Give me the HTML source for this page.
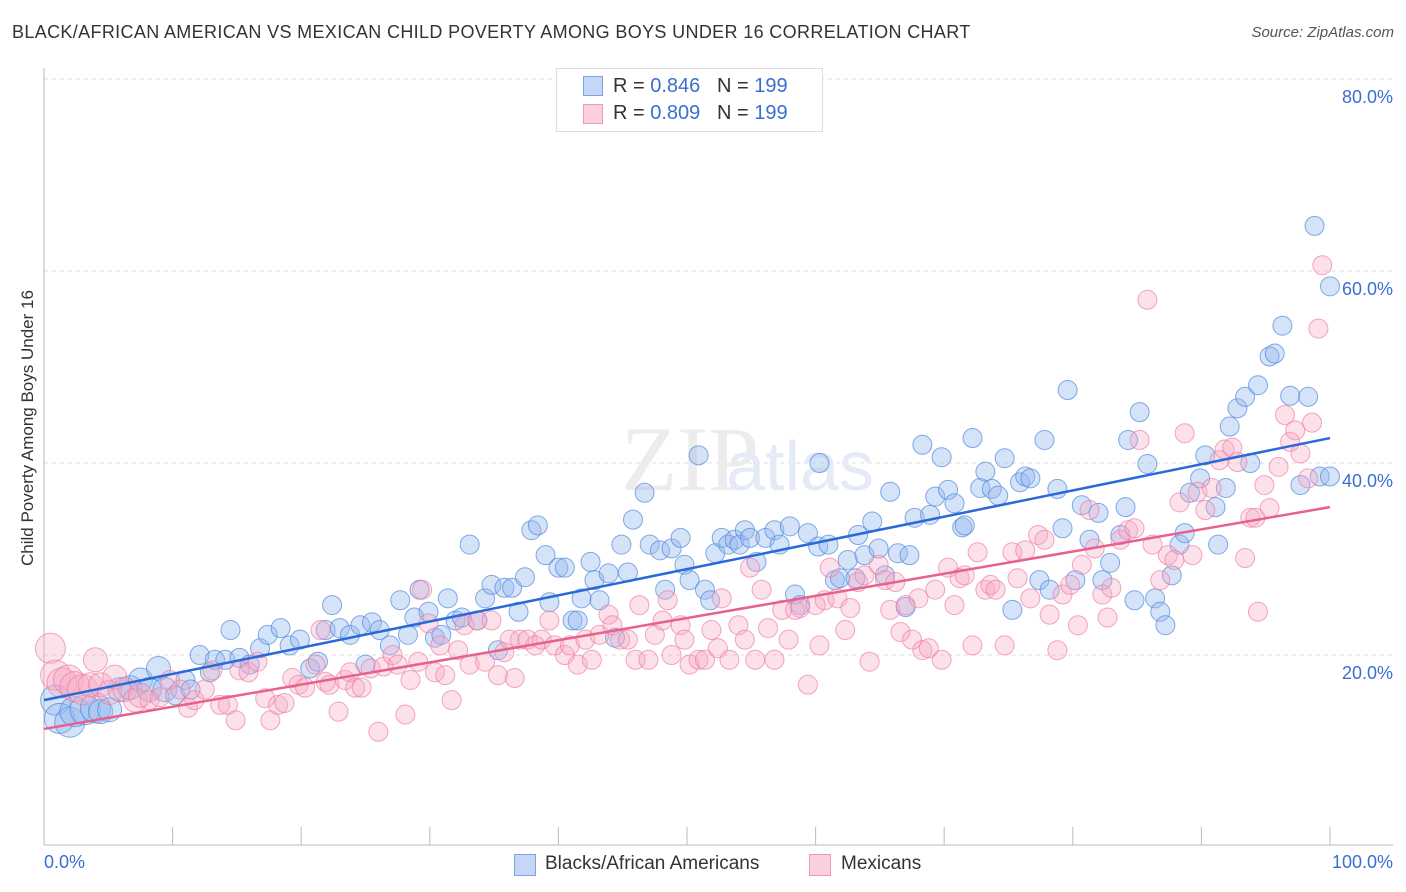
<!DOCTYPE html>
<html><head><meta charset="utf-8"><style>
body{margin:0;background:#fff;font-family:"Liberation Sans",sans-serif;}
#wrap{position:relative;width:1406px;height:892px;overflow:hidden;}
.t{position:absolute;white-space:nowrap;}
</style></head><body>
<div id="wrap">
<div class="t" style="left:12px;top:22px;font-size:18px;color:#333;letter-spacing:0.35px;">BLACK/AFRICAN AMERICAN VS MEXICAN CHILD POVERTY AMONG BOYS UNDER 16 CORRELATION CHART</div>
<div class="t" style="right:12px;top:24px;font-size:15px;color:#555;font-style:italic;">Source: ZipAtlas.com</div>
<svg id="svg" width="1406" height="892" style="position:absolute;left:0;top:0"></svg>
</div>
<script>
const bx=[0.9,1.2,2.0,2.4,3.2,4.0,4.4,5.1,5.9,6.7,7.5,8.2,8.9,9.4,10.2,11.0,11.4,12.1,12.9,13.3,14.1,14.5,15.2,16.0,16.8,17.4,18.4,19.1,19.9,20.7,21.3,21.9,22.4,23.0,23.8,24.6,25.0,25.5,26.1,26.9,27.7,28.3,28.8,29.2,29.9,30.4,30.9,31.4,32.0,32.5,33.1,33.7,34.3,34.8,35.3,35.8,36.4,36.9,37.4,37.9,38.4,39.0,39.3,40.0,40.5,41.1,41.5,41.8,42.5,42.8,43.2,43.9,44.4,44.9,45.4,45.8,46.7,47.1,47.9,48.3,48.8,49.5,49.8,50.2,50.9,51.4,51.8,52.2,52.7,53.2,53.7,54.1,54.5,54.9,55.4,56.1,56.8,57.2,58.0,58.4,58.8,59.4,60.2,60.3,61.0,61.5,61.9,62.5,63.1,63.3,63.8,64.4,64.9,65.4,65.8,66.4,67.0,67.3,67.7,68.3,68.9,69.3,69.8,70.3,70.8,71.4,71.6,72.2,72.8,73.2,73.7,74.2,74.7,75.3,75.9,76.3,76.7,77.4,77.8,78.2,78.8,79.2,79.6,80.2,80.7,81.3,82.0,82.3,82.9,83.7,84.1,84.3,84.8,85.2,85.8,86.4,86.8,87.2,87.7,88.3,88.7,89.1,89.9,90.3,91.1,91.3,91.9,92.2,92.8,93.4,93.8,94.4,95.3,95.7,96.3,96.9,97.7,98.3,98.8,99.2,100,100];
const by=[15.3,13.4,13.0,14.1,14.3,14.5,14.1,14.3,16.4,16.6,17.4,16.4,18.6,16.4,15.8,17.4,16.4,20.0,18.2,19.5,19.5,22.6,19.7,19.0,20.7,22.1,22.8,21.0,21.6,18.6,19.3,22.6,25.2,22.8,22.1,23.1,19.0,23.4,22.6,21.0,25.7,22.1,23.9,26.8,24.5,21.8,22.1,25.9,23.6,23.9,31.5,23.6,25.9,27.3,20.5,27.0,27.0,24.5,28.1,33.0,33.5,30.4,25.5,29.1,29.1,23.6,23.6,25.9,29.7,27.8,25.7,28.5,21.8,31.5,28.6,34.1,36.9,31.5,30.9,26.8,31.1,32.2,29.4,27.8,40.8,26.8,25.7,30.6,32.2,31.5,32.0,31.5,33.0,32.2,29.7,32.2,33.0,31.5,33.4,26.3,25.2,32.7,31.3,40.0,31.5,27.8,28.0,29.9,28.0,32.5,30.4,33.9,31.1,28.3,37.0,30.6,25.0,30.4,34.3,41.9,34.6,36.5,40.6,37.2,35.8,33.3,33.5,42.6,37.4,39.1,37.3,36.6,40.5,24.7,38.0,38.6,38.4,27.8,42.4,26.8,37.3,33.2,47.6,27.8,35.6,32.0,34.8,27.8,29.6,32.5,35.4,42.4,25.7,45.3,39.9,25.9,24.5,23.1,28.3,31.5,32.7,36.9,38.4,40.8,35.4,31.5,37.4,43.8,45.7,46.9,40.0,48.1,51.1,51.4,54.3,47.0,37.7,46.9,64.7,38.6,58.4,38.6];
const px=[0.5,0.9,1.4,1.9,2.4,3.0,3.6,4.0,4.4,5.1,5.5,6.3,7.1,7.5,8.2,9.0,9.8,10.6,11.2,11.7,12.5,13.1,13.7,14.3,14.9,15.2,15.9,16.6,17.2,17.6,18.2,18.7,19.3,19.8,20.3,21.1,21.5,21.9,22.2,22.9,23.4,23.8,24.2,24.7,25.4,26.0,26.4,27.1,27.5,28.1,28.5,29.1,29.4,29.9,30.4,30.8,31.2,31.7,32.2,32.7,33.1,33.7,34.3,34.8,35.3,35.8,36.2,36.6,37.0,37.6,38.2,38.7,39.3,39.7,40.5,40.9,41.5,42.1,42.6,43.2,43.9,44.2,44.8,45.4,46.0,46.3,47.0,47.5,48.1,48.5,48.8,49.5,49.8,50.2,50.9,51.4,51.9,52.4,52.7,53.3,54.0,54.5,54.9,55.3,55.8,56.3,56.8,57.4,57.9,58.4,58.8,59.4,60.0,60.3,60.7,61.1,61.7,62.3,62.7,63.3,63.8,64.2,64.9,65.4,65.8,66.2,66.6,67.0,67.5,68.0,68.3,68.8,69.3,69.8,70.3,70.8,71.2,71.6,72.2,72.6,73.2,73.6,74.0,74.7,75.3,75.7,76.3,76.7,77.3,77.8,78.2,78.8,79.2,79.8,80.4,80.7,81.3,81.7,82.3,82.7,83.0,83.7,84.3,84.8,85.2,85.8,86.2,86.8,87.4,87.9,88.3,88.7,89.3,89.7,90.3,90.8,91.4,91.8,92.4,92.8,93.4,93.8,94.2,94.4,94.9,95.3,96.0,96.5,96.9,97.3,97.7,98.3,98.6,99.1,99.4];
const py=[20.7,17.9,17.1,17.4,16.7,16.4,16.9,19.5,16.9,16.1,17.7,16.4,15.3,15.8,15.3,15.6,17.4,16.4,14.5,15.3,16.4,18.4,14.8,14.8,13.2,18.4,18.2,19.3,15.5,13.2,14.8,15.0,17.6,16.9,16.6,19.0,22.6,17.2,16.9,14.1,17.4,18.2,16.6,16.6,18.6,12.0,18.8,20.0,19.0,13.8,17.4,19.3,26.8,23.3,18.2,21.0,17.9,15.3,20.5,23.1,19.0,23.6,19.3,23.6,17.9,20.3,21.6,17.6,21.6,21.6,21.0,21.6,23.6,21.0,20.0,21.0,19.0,21.6,19.5,22.1,24.2,23.1,21.6,21.6,19.5,25.2,19.5,22.1,23.6,25.7,20.0,23.1,21.6,19.0,19.5,19.5,22.6,20.7,25.9,19.5,23.1,21.6,29.1,19.5,26.8,22.8,19.5,24.7,21.6,24.7,24.9,16.9,25.2,21.0,25.7,29.1,25.9,22.6,24.9,27.6,28.3,19.3,29.4,27.8,24.7,27.6,22.4,25.2,21.6,25.9,20.5,20.7,26.8,19.5,29.1,25.2,28.0,28.3,21.0,30.7,26.8,27.3,26.8,21.0,30.7,28.0,30.9,25.9,32.5,32.0,24.2,20.5,26.3,27.3,23.1,29.4,35.1,31.1,26.3,23.9,27.0,32.0,33.0,33.2,42.4,57.0,31.5,27.8,30.4,29.9,35.9,43.1,30.4,37.0,35.1,37.4,40.3,41.4,41.6,40.1,30.1,34.3,34.3,24.5,37.7,35.3,39.6,45.0,42.2,43.4,41.0,38.4,44.2,54.0,60.6];
const yTicks=[20,40,60,80];
const blueFit=[15.3,42.6], pinkFit=[12.3,35.4];

const NS='http://www.w3.org/2000/svg', svg=document.getElementById('svg');
const X=v=>44+v*12.86, Y=v=>847-v*9.6;
function mk(t,a,p){const e=document.createElementNS(NS,t);for(const k in a)e.setAttribute(k,a[k]);(p||svg).appendChild(e);return e;}
yTicks.forEach(t=>{
 const g=mk('line',{x1:44,x2:1393,y1:Y(t),y2:Y(t),stroke:'#ddd','stroke-dasharray':'4,4'});
 
 
 const tx=mk('text',{x:1393,y:Y(t)+24,'text-anchor':'end',fill:'#3a6fd0','font-size':18,'font-family':'Liberation Sans'});
 tx.textContent=t.toFixed(1)+'%';
 
 
});
mk('line',{x1:44,x2:44,y1:68,y2:845,stroke:'#bbb'});
mk('line',{x1:44,x2:1393,y1:845,y2:845,stroke:'#bbb'});
for(let i=1;i<=10;i++){const l=mk('line',{x1:X(i*10),x2:X(i*10),y1:827,y2:845,stroke:'#bbb'});
 
 }
const wm=mk('text',{x:690,y:490,'text-anchor':'middle','font-size':92,fill:'#ececec','font-family':'Liberation Serif'});wm.textContent='ZIP';
const wm2=mk('text',{x:800,y:490,'text-anchor':'middle','font-size':70,fill:'#e4ebf6','font-family':'Liberation Sans'});wm2.textContent='atlas';
function dots(xs,ys,fill,stroke,name){xs.forEach((v,i)=>{const r=i<6?15:(i<14?12:9.5);
 const c=mk('circle',{cx:X(v),cy:Y(ys[i]),r:r,fill:fill,stroke:stroke,'stroke-width':1});
 
 });}
dots(bx,by,'rgba(150,185,240,0.4)','rgba(80,135,220,0.7)','blacks-point');
dots(px,py,'rgba(245,170,195,0.35)','rgba(236,120,160,0.65)','mexicans-point');
const l1=mk('line',{x1:X(0),y1:Y(blueFit[0]),x2:X(100),y2:Y(blueFit[1]),stroke:'#2a6ad8','stroke-width':2.5});


const l2=mk('line',{x1:X(0),y1:Y(pinkFit[0]),x2:X(100),y2:Y(pinkFit[1]),stroke:'#e8608c','stroke-width':2.5});


</script>
<div class="t" style="left:44px;top:852px;font-size:18px;color:#3a6fd0;">0.0%</div>
<div class="t" style="right:13px;top:852px;font-size:18px;color:#3a6fd0;">100.0%</div>
<div class="t" style="left:-82px;top:446px;font-size:17px;color:#333;transform:rotate(-90deg);width:220px;text-align:center;">Child Poverty Among Boys Under 16</div>
<div style="position:absolute;left:556px;top:68px;width:265px;height:62px;border:1px solid #ddd;background:#fff;">
 <div style="position:absolute;left:26px;top:7px;width:18px;height:18px;background:#c5d7f5;border:1px solid #7ba3e6;"></div>
 <div class="t" style="left:56px;top:6px;font-size:20px;color:#333;">R = <span style="color:#3a6fd0">0.846</span>&nbsp;&nbsp;&nbsp;N = <span style="color:#3a6fd0">199</span></div>
 <div style="position:absolute;left:26px;top:35px;width:18px;height:18px;background:#fbd0de;border:1px solid #f09ab8;"></div>
 <div class="t" style="left:56px;top:33px;font-size:20px;color:#333;">R = <span style="color:#3a6fd0">0.809</span>&nbsp;&nbsp;&nbsp;N = <span style="color:#3a6fd0">199</span></div>
</div>
<div style="position:absolute;left:514px;top:854px;width:20px;height:20px;background:#c5d7f5;border:1px solid #7ba3e6;"></div>
<div class="t" style="left:545px;top:853px;font-size:19px;color:#333;">Blacks/African Americans</div>
<div style="position:absolute;left:809px;top:854px;width:20px;height:20px;background:#fbd0de;border:1px solid #f09ab8;"></div>
<div class="t" style="left:841px;top:853px;font-size:19px;color:#333;">Mexicans</div>
</body></html>
